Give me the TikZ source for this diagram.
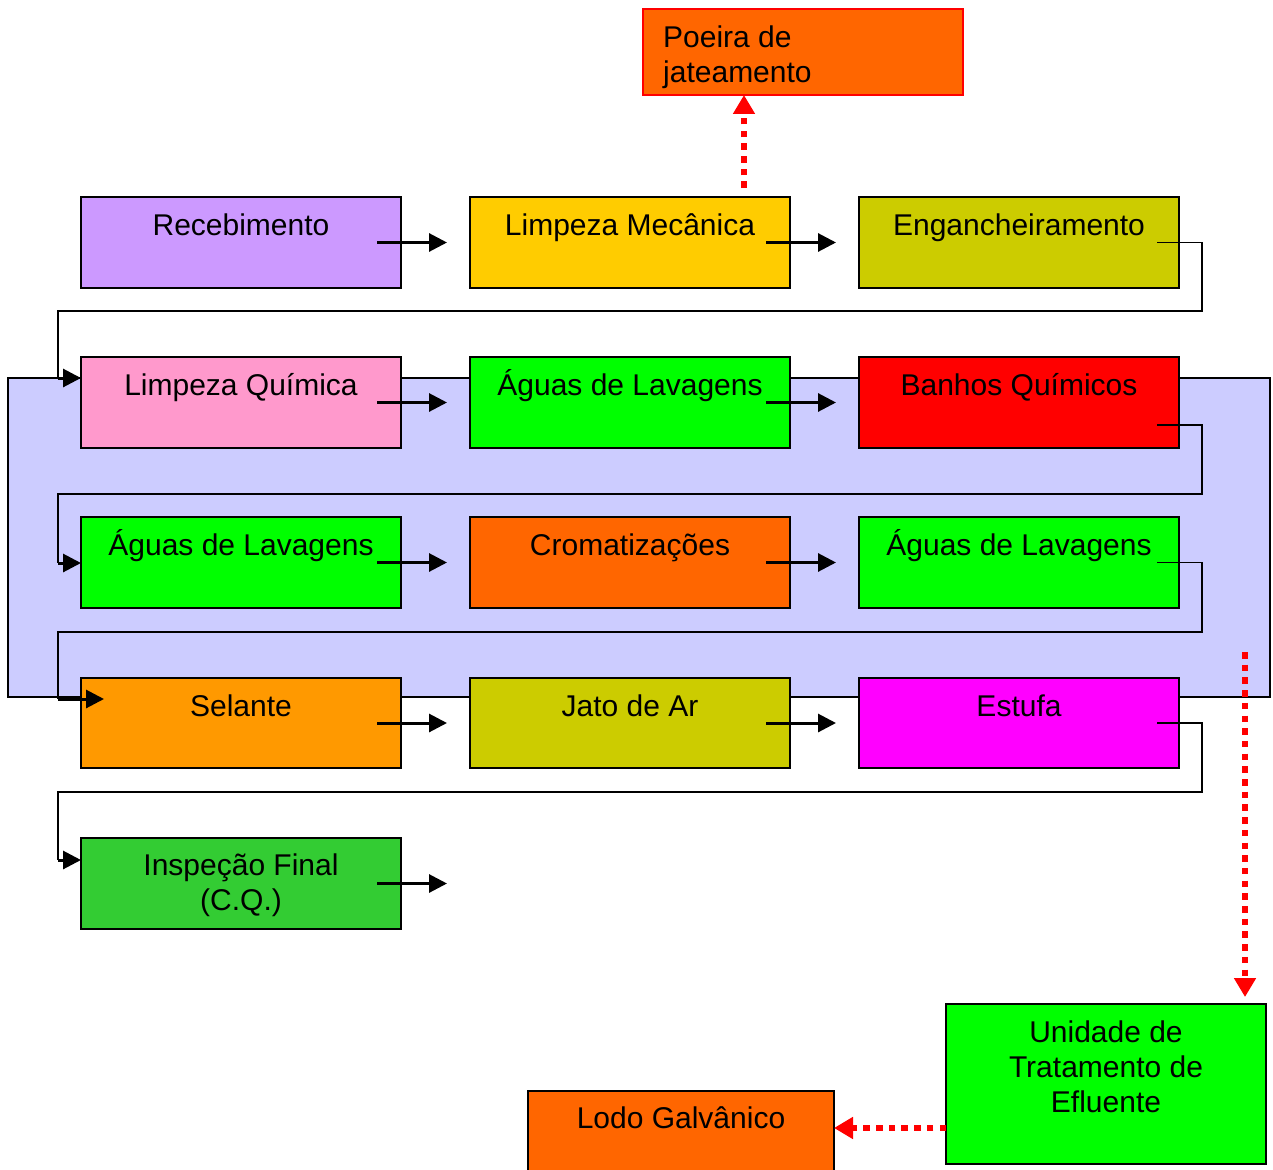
\documentclass[tikz,border=0pt]{standalone}
\usepackage{fontspec}
\setmainfont{Liberation Sans}
\usetikzlibrary{arrows.meta}

\definecolor{cLilac}{HTML}{CC99FF}
\definecolor{cGold}{HTML}{FFCC00}
\definecolor{cOlive}{HTML}{CCCC00}
\definecolor{cPink}{HTML}{FF99CC}
\definecolor{cLime}{HTML}{00FF00}
\definecolor{cRed}{HTML}{FF0000}
\definecolor{cOrangeRed}{HTML}{FF6600}
\definecolor{cOrange}{HTML}{FF9900}
\definecolor{cMagenta}{HTML}{FF00FF}
\definecolor{cGreen}{HTML}{33CC33}
\definecolor{cLav}{HTML}{CCCCFF}

\begin{document}
\begin{tikzpicture}[x=1pt,y=-1pt,
  box/.style={draw=black, line width=2pt, minimum width=320pt, minimum height=91pt,
              inner sep=0pt, outer sep=0pt},
  lbl/.style={font=\fontsize{30}{35}\selectfont, inner sep=0pt, anchor=base},
  mlbl/.style={font=\fontsize{30}{35}\selectfont, inner sep=0pt, anchor=north, align=center},
  flow/.style={draw=black, line width=3pt, -{Triangle[length=18pt,width=18pt]}},
  ret/.style={draw=black, line width=1.9pt},
  waste/.style={draw=cRed, line width=6.8pt, dash pattern=on 6.5pt off 6.2pt,
                -{Triangle[length=19pt,width=21pt,fill=cRed]}}]
\useasboundingbox (0,0) rectangle (1273,1169);
\clip (0,0) rectangle (1273,1169);

% treatment bath region
\node[draw=black, line width=1.5pt, fill=cLav, minimum width=1262pt, minimum height=319pt,
      inner sep=0pt, outer sep=0pt] (bath) at (639,537.5) {};

% process steps
\node[box, fill=cLilac]     (rec)    at (241,242.5) {};
\node[box, fill=cGold]      (limpm)  at (630,242.5) {};
\node[box, fill=cOlive]     (eng)    at (1019,242.5) {};
\node[box, fill=cPink]      (limq)   at (241,402.5) {};
\node[box, fill=cLime]      (agua1)  at (630,402.5) {};
\node[box, fill=cRed]       (banhos) at (1019,402.5) {};
\node[box, fill=cLime]      (agua2)  at (241,562.5) {};
\node[box, fill=cOrangeRed] (crom)   at (630,562.5) {};
\node[box, fill=cLime]      (agua3)  at (1019,562.5) {};
\node[box, fill=cOrange, minimum height=90pt]  (sel)    at (241,723) {};
\node[box, fill=cOlive, minimum height=90pt]   (jato)   at (630,723) {};
\node[box, fill=cMagenta, minimum height=90pt] (estufa) at (1019,723) {};
\node[box, fill=cGreen]     (insp)   at (241,883.5) {};

% residues
\node[box, draw=cRed, fill=cOrangeRed, minimum height=86pt] (poeira) at (803,52) {};
\node[box, fill=cLime, minimum height=160pt] (ute)  at (1106,1084) {};
\node[box, fill=cOrangeRed, minimum width=306pt] (lodo) at (681,1136.5) {};

% labels
\node[lbl] at ([yshift=-38pt]rec.north)    {Recebimento};
\node[lbl] at ([yshift=-38pt]limpm.north)  {Limpeza Mecânica};
\node[lbl] at ([yshift=-38pt]eng.north)    {Engancheiramento};
\node[lbl] at ([yshift=-38pt]limq.north)   {Limpeza Química};
\node[lbl] at ([yshift=-38pt]agua1.north)  {Águas de Lavagens};
\node[lbl] at ([yshift=-38pt]banhos.north) {Banhos Químicos};
\node[lbl] at ([yshift=-38pt]agua2.north)  {Águas de Lavagens};
\node[lbl] at ([yshift=-38pt]crom.north)   {Cromatizações};
\node[lbl] at ([yshift=-38pt]agua3.north)  {Águas de Lavagens};
\node[lbl] at ([yshift=-38pt]sel.north)    {Selante};
\node[lbl] at ([yshift=-38pt]jato.north)   {Jato de Ar};
\node[lbl] at ([yshift=-38pt]estufa.north) {Estufa};
\node[mlbl] at ([yshift=-16pt]insp.north)  {Inspeção Final\\(C.Q.)};
\node[mlbl] at ([yshift=-17pt]ute.north)   {Unidade de\\Tratamento de\\Efluente};
\node[lbl] at ([yshift=-37pt]lodo.north)   {Lodo Galvânico};
\node[mlbl, anchor=north west, align=left] at ([xshift=20pt,yshift=-16.5pt]poeira.north west)
  {Poeira de\\jateamento};

% flow within each row
\draw[flow] ([xshift=-24pt]rec.east)    -- ([xshift=-23pt]limpm.west);
\draw[flow] ([xshift=-24pt]limpm.east)  -- ([xshift=-23pt]eng.west);
\draw[flow] ([xshift=-24pt]limq.east)   -- ([xshift=-23pt]agua1.west);
\draw[flow] ([xshift=-24pt]agua1.east)  -- ([xshift=-23pt]banhos.west);
\draw[flow] ([xshift=-24pt]agua2.east)  -- ([xshift=-23pt]crom.west);
\draw[flow] ([xshift=-24pt]crom.east)   -- ([xshift=-23pt]agua3.west);
\draw[flow] ([xshift=-24pt]sel.east)    -- ([xshift=-23pt]jato.west);
\draw[flow] ([xshift=-24pt]jato.east)   -- ([xshift=-23pt]estufa.west);
\draw[flow] ([xshift=-24pt]insp.east)   -- ++(70,0) coordinate (expedicao);

% row-to-row returns
\draw[ret] ([xshift=-22pt]eng.east) -- ++(45,0) |- (58,311) -- (58,378) coordinate (r1);
\draw[flow] (r1) -- (r1 -| limq.west);
\draw[ret] ([xshift=-22pt,yshift=-22.5pt]banhos.east) -- ++(45,0) |- (58,494) -- (58,563) coordinate (r2);
\draw[flow] (r2) -- (r2 -| agua2.west);
\draw[ret] ([xshift=-22pt]agua3.east) -- ++(45,0) |- (58,632) -- (58,699) coordinate (r3);
\draw[flow] (r3) -- ([xshift=23pt]sel.west |- r3);
\draw[ret] ([xshift=-22pt]estufa.east) -- ++(45,0) |- (58,792) -- (58,860) coordinate (r4);
\draw[flow] (r4) -- (r4 -| insp.west);

% residue streams
\draw[waste] ([xshift=114pt,yshift=9pt]limpm.north) -- ([xshift=114pt]limpm.north |- poeira.south);
\coordinate (efl) at (1245,652);
\draw[waste] (efl) -- ([xshift=139pt,yshift=7pt]ute.north);
\draw[waste] ([yshift=-44pt]ute.west) -- ([yshift=-44pt]ute.west -| lodo.east);
\end{tikzpicture}
\end{document}
